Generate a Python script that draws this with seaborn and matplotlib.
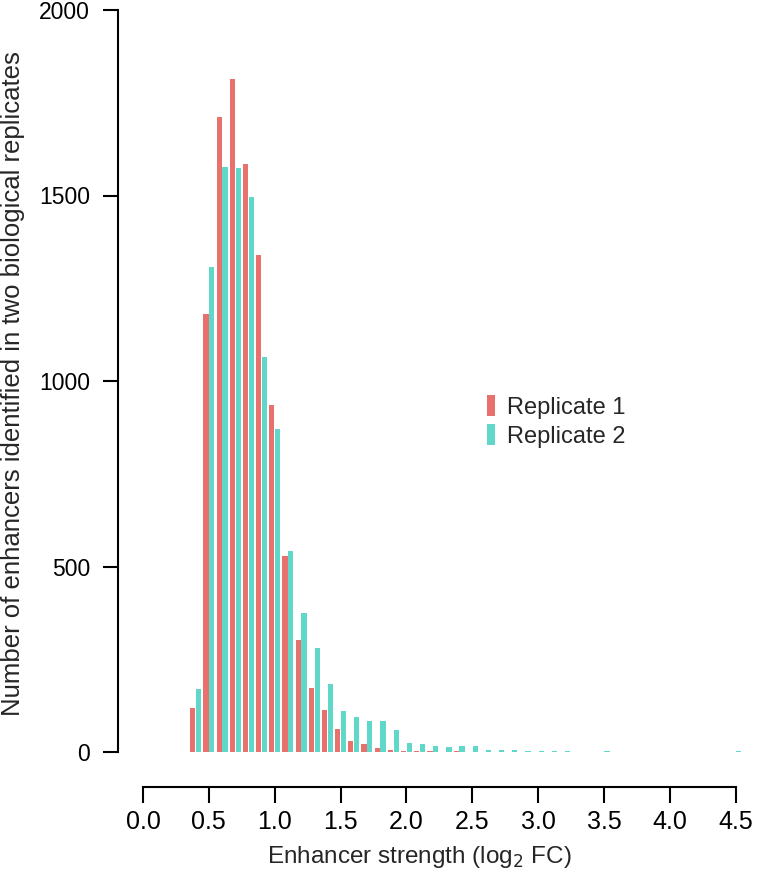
import pandas as pd
import matplotlib
matplotlib.use("Agg")
import matplotlib.pyplot as plt
import seaborn as sns

# Histogram bins (log2 FC, bin centre) and counts per replicate

bin_centers = [0.4, 0.5, 0.6, 0.7, 0.8, 0.9, 1.0, 1.1, 1.2, 1.3,
               1.4, 1.5, 1.6, 1.7, 1.8, 1.9, 2.0, 2.1, 2.2, 2.3,
               2.4, 2.5, 2.6, 2.7, 2.8, 2.9, 3.0, 3.1, 3.2, 3.3,
               3.4, 3.5, 3.6, 3.7, 3.8, 3.9, 4.0, 4.1, 4.2, 4.3,
               4.4, 4.5]

rep1_counts = [118, 1181, 1711, 1814, 1585, 1340, 935, 528, 302, 173,
               113, 62, 30, 22, 11, 5, 3, 3, 3, 0,
               2, 1, 0, 0, 0, 0, 0, 0, 0, 0,
               0, 0, 0, 0, 0, 0, 0, 0, 0, 0,
               0, 0]

rep2_counts = [170, 1307, 1577, 1574, 1496, 1065, 871, 542, 375, 280,
               183, 110, 94, 84, 84, 59, 24, 22, 16, 13,
               16, 16, 5, 6, 5, 3, 3, 3, 2, 0,
               0, 3, 0, 0, 0, 0, 0, 0, 0, 0,
               0, 3]

series_names = ["Replicate 1", "Replicate 2"]
colors = ["#E8716D", "#5FD8C9"]

x_ticks = [0.0, 0.5, 1.0, 1.5, 2.0, 2.5, 3.0, 3.5, 4.0, 4.5]
y_ticks = [0, 500, 1000, 1500, 2000]


def build_table():
    rows = []
    for name, counts in zip(series_names, [rep1_counts, rep2_counts]):
        for x, c in zip(bin_centers, counts):
            rows.append({"strength": x, "count": c, "rep": name})
    return pd.DataFrame(rows)


def main():
    df = build_table()

    sns.set_style("ticks")
    plt.rcParams["font.family"] = ["Liberation Sans", "DejaVu Sans"]

    fig = plt.figure(figsize=(7.57, 8.74), dpi=100)
    ax = fig.add_axes([143 / 757, 122 / 874, 606 / 757, 742 / 874])

    sns.barplot(data=df, x="strength", y="count", hue="rep",
                hue_order=series_names, palette=colors,
                native_scale=True, width=0.88, gap=0.1,
                linewidth=0, saturation=1, ax=ax)

    ax.set_xlim(0, 4.6)
    ax.set_ylim(0, 2000)

    # detached, R style axes
    sns.despine(ax=ax)
    ax.spines["bottom"].set_position(("outward", 25.2))
    ax.spines["left"].set_position(("outward", 18))
    ax.spines["bottom"].set_bounds(0, 4.5)
    ax.spines["left"].set_bounds(0, 2000)
    for s in ["bottom", "left"]:
        ax.spines[s].set_linewidth(1.5)
        ax.spines[s].set_color("black")

    ax.set_xticks(x_ticks)
    ax.set_xticklabels([f"{t:.1f}" for t in x_ticks])
    ax.set_yticks(y_ticks)
    ax.set_yticklabels([str(t) for t in y_ticks])
    ax.tick_params(axis="x", length=11.5, width=1.5, labelsize=18, pad=5,
                   colors="black")
    ax.tick_params(axis="y", length=11, width=1.5, labelsize=16.5, pad=9,
                   colors="black")

    ax.set_xlabel("Enhancer strength (log$_2$ FC)", fontsize=17.5)
    ax.xaxis.set_label_coords((419 - 143) / 606, -0.124)
    ax.set_ylabel("Number of enhancers identified in two biological replicates",
                  fontsize=18.5)
    ax.yaxis.set_label_coords((25 - 143) / 606, 0.497)

    sns.move_legend(ax, loc="upper left",
                    bbox_to_anchor=(487 / 757, 1 - 395 / 874),
                    bbox_transform=fig.transFigure,
                    frameon=False, title=None, fontsize=17,
                    handlelength=0.35, handleheight=1.0,
                    handletextpad=0.5, labelspacing=0.22,
                    borderpad=0, borderaxespad=0)

    fig.savefig("out.png", dpi=100)


if __name__ == "__main__":
    main()
